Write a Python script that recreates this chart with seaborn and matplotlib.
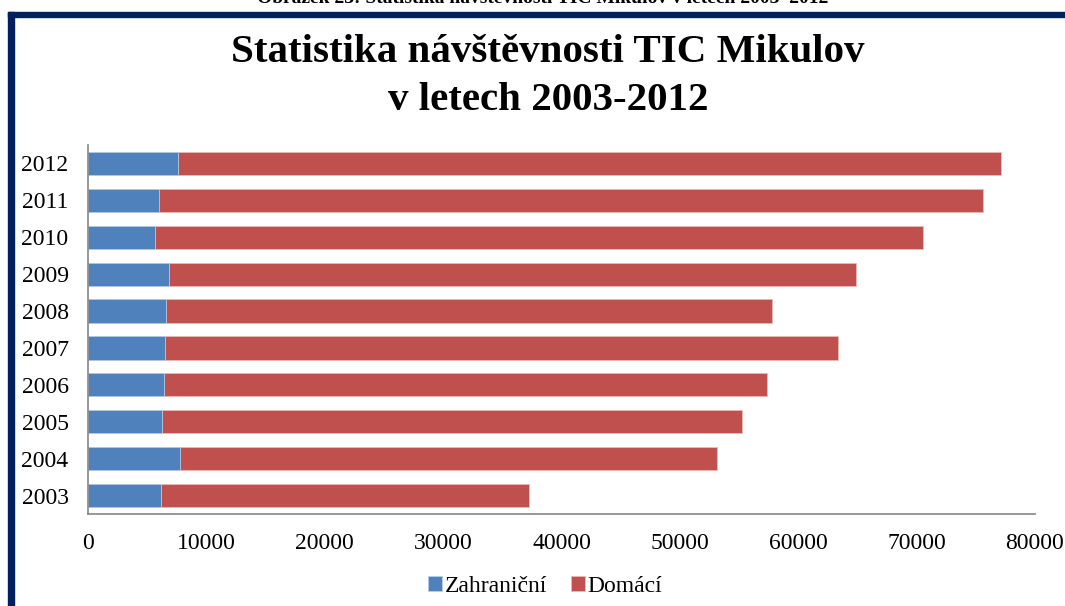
import matplotlib
matplotlib.use("Agg")
import matplotlib.pyplot as plt
import seaborn as sns
import pandas as pd
from matplotlib.patches import Rectangle

# data (visitors per year)
years = ["2012", "2011", "2010", "2009", "2008", "2007", "2006", "2005", "2004", "2003"]
zahranicni = [7600, 6000, 5660, 6840, 6590, 6530, 6420, 6220, 7740, 6170]
domaci = [69510, 69620, 64840, 58050, 51210, 56840, 50900, 49070, 45380, 31100]
x_ticks = [0, 10000, 20000, 30000, 40000, 50000, 60000, 70000, 80000]

blue = "#4F81BD"
red = "#C0504D"
navy = "#002060"

df = pd.DataFrame({"rok": years, "Zahraniční": zahranicni, "Domácí": domaci})
df["celkem"] = df["Zahraniční"] + df["Domácí"]

sns.set_style("white")
plt.rcParams["font.family"] = ["Liberation Serif", "DejaVu Serif"]
plt.rcParams["text.color"] = "black"

fig = plt.figure(figsize=(10.65, 6.06), dpi=100)
ax = fig.add_axes([88 / 1065, 1 - 514 / 606, (1035 - 88) / 1065, 369 / 606])

# stacked bars: total in red first, foreign part in blue over it
sns.barplot(data=df, y="rok", x="celkem", order=years, color=red, width=0.63,
            orient="h", ax=ax, saturation=1, edgecolor="#E6B9B8", linewidth=0.6,
            label="Domácí")
sns.barplot(data=df, y="rok", x="Zahraniční", order=years, color=blue, width=0.63,
            orient="h", ax=ax, saturation=1, edgecolor="#B9CDE5", linewidth=0.6,
            label="Zahraniční")

ax.set_xlim(0, 80000)
ax.set_ylim(9.5, -0.5)
ax.set_xticks(x_ticks)
ax.set_xticklabels([str(t) for t in x_ticks])
ax.set_xlabel("")
ax.set_ylabel("")
ax.tick_params(axis="both", length=0, labelsize=17, colors="black")
ax.tick_params(axis="x", pad=14)
ax.tick_params(axis="y", pad=14)
for s in ["top", "right"]:
    ax.spines[s].set_visible(False)
for s in ["left", "bottom"]:
    ax.spines[s].set_color("#868686")
    ax.spines[s].set_linewidth(1.2)

handles, labels = ax.get_legend_handles_labels()
order = [labels.index("Zahraniční"), labels.index("Domácí")]
fig.legend([handles[i] for i in order], [labels[i] for i in order],
           loc="center", bbox_to_anchor=(545 / 1065, 1 - 586 / 606), ncol=2,
           frameon=False, fontsize=17, handlelength=0.6, handleheight=0.6,
           handletextpad=0.1, columnspacing=1.0)
if ax.get_legend() is not None:
    ax.get_legend().remove()

fig.text(548 / 1065, 1 - 53 / 606, "Statistika návštěvnosti TIC Mikulov",
         ha="center", va="center", fontsize=29.5, fontweight="bold")
fig.text(548 / 1065, 1 - 100 / 606, "v letech 2003-2012",
         ha="center", va="center", fontsize=29.5, fontweight="bold")

# caption of the document, cut off by the crop
fig.text(543 / 1065, 1 - 3 / 606, "Obrázek 23: Statistika návštěvnosti TIC Mikulov v letech 2003–2012",
         ha="center", va="baseline", fontsize=14, fontweight="bold")

# dark frame on top and left
fig.patches.append(Rectangle((8 / 1065, 1 - 17 / 606), 1, 5 / 606,
                             transform=fig.transFigure, color=navy, zorder=5))
fig.patches.append(Rectangle((8 / 1065, 0), 6 / 1065, 1 - 12 / 606,
                             transform=fig.transFigure, color=navy, zorder=5))

fig.savefig("out.png", dpi=100)
